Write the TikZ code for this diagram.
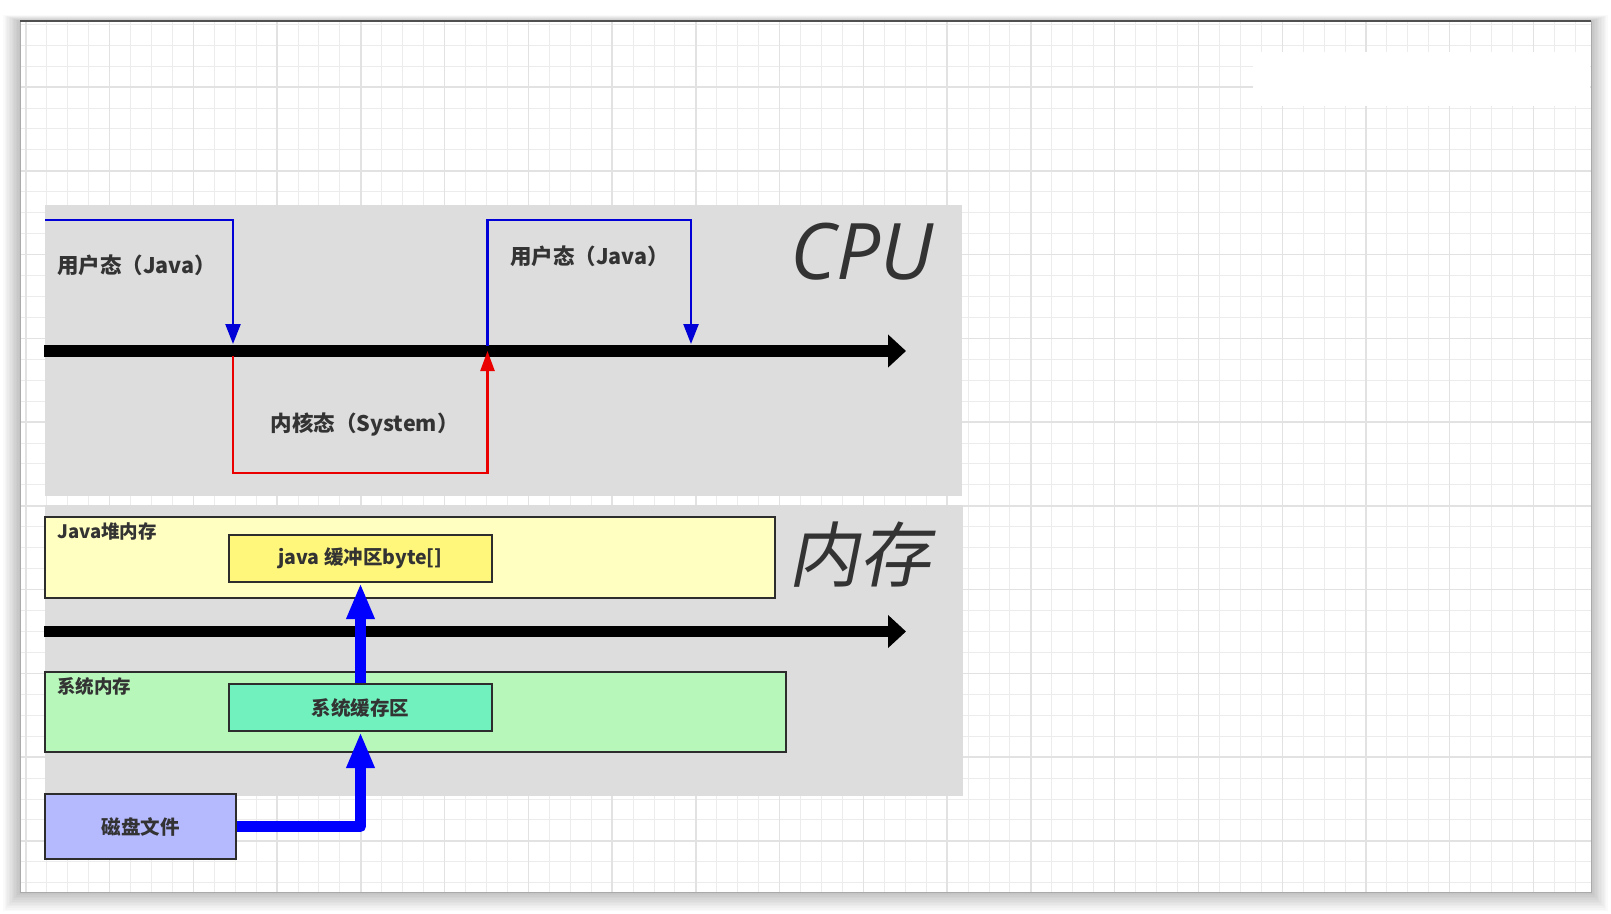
\documentclass[tikz,border=0pt]{standalone}
\usepackage{fontspec}
\setmainfont{Noto Sans CJK SC}
\newfontfamily\cpufont{Open Sans}
\newfontfamily\memfont{Noto Sans CJK SC}[FakeSlant=0.2]
\usetikzlibrary{arrows.meta}
\definecolor{panelgray}{RGB}{221,221,221}
\definecolor{gminorc}{RGB}{236,236,236}
\definecolor{gmajorc}{RGB}{226,226,226}
\definecolor{boxline}{RGB}{45,45,45}
\definecolor{txt}{RGB}{51,51,51}
\definecolor{heapfill}{RGB}{255,255,194}
\definecolor{buffill}{RGB}{255,247,124}
\definecolor{sysfill}{RGB}{183,247,185}
\definecolor{cachefill}{RGB}{112,241,190}
\definecolor{diskfill}{RGB}{181,185,254}
\definecolor{tblue}{RGB}{0,0,215}
\definecolor{tred}{RGB}{235,0,0}
\definecolor{bblue}{RGB}{0,0,255}
\definecolor{topline}{RGB}{80,80,80}
\definecolor{frameline}{RGB}{170,170,170}
\begin{document}
\begin{tikzpicture}[x=1pt,y=-1pt,
  panelbox/.style={fill=panelgray, draw=none, inner sep=0pt, anchor=north west},
  membox/.style={draw=boxline, line width=2pt, inner sep=0pt, anchor=north west},
  lbl/.style={text=txt, font=\bfseries\fontsize{19.5}{23}\selectfont},
  cornerlbl/.style={text=txt, font=\bfseries\fontsize{18.5}{22}\selectfont, inner sep=0pt, anchor=west},
  cpulbl/.style={text=txt, font=\bfseries\fontsize{21.5}{26}\selectfont, inner sep=0pt, anchor=west},
  axisarrow/.style={line width=11.5pt, draw=black, -{Triangle[length=18pt,width=32pt]}},
  thinblue/.style={draw=tblue, line width=2.4pt, -{Triangle[length=20pt,width=15pt]}},
  thinred/.style={draw=tred, line width=2.4pt, -{Triangle[length=20pt,width=14pt]}},
  bigarrow/.style={draw=bblue, line width=11pt, line join=round, -{Triangle[length=36pt,width=26pt]}},
  gminor/.style={draw=gminorc, line width=1pt},
  gmajor/.style={draw=gmajorc, line width=1.4pt}
]
\useasboundingbox (0,0) rectangle (1611,913);
\fill[white] (0,0) rectangle (1611,913);
% shadow
\foreach \i in {1,...,12}
  \fill[black,opacity=0.018] ({20-1.4*\i},{21-0.5*\i}) rectangle ({1591+1.4*\i},{892+1.6*\i});
% frame
\node[fill=white, draw=none, inner sep=0pt, minimum width=1571pt, minimum height=871pt, anchor=north west] (frame) at (20,21) {};
\begin{scope}
\clip (20,21) rectangle (1591,892);
\foreach \k in {0,...,75} \draw[gminor] ({25.8+20.94*\k},21) -- ({25.8+20.94*\k},892);
\foreach \k in {1,...,42} \draw[gminor] (20,{3.3+20.94*\k}) -- (1591,{3.3+20.94*\k});
\foreach \k in {0,4,...,72} \draw[gmajor] ({25.8+20.94*\k},21) -- ({25.8+20.94*\k},892);
\foreach \k in {4,8,...,40} \draw[gmajor] (20,{3.3+20.94*\k}) -- (1591,{3.3+20.94*\k});
\end{scope}
\draw[frameline, line width=0.8pt] (frame.north west) rectangle (frame.south east);
\draw[topline, line width=2.2pt] (frame.north west) -- (frame.north east);
% white patch top right
\fill[white] (1253,52) rectangle (1590,106);

% panels
\node[panelbox, minimum width=917pt, minimum height=291pt] (cpupanel) at (45,205) {};
\node[panelbox, minimum width=918pt, minimum height=291pt] (mempanel) at (44.5,505) {};

% CPU axis
\coordinate (ca0) at (44,351);
\coordinate (ca1) at (906,351);
\draw[axisarrow] (ca0) -- (ca1);

% CPU state lines
\coordinate (b1s) at (45,220);
\coordinate (b1c) at (233,220);
\coordinate (b1e) at (233,344);
\draw[thinblue] (b1s) -- (b1c) -- (b1e);

\coordinate (r1s) at (233,356);
\coordinate (r1a) at (233,473);
\coordinate (r1b) at (487.5,473);
\coordinate (r1e) at (487.5,351);
\draw[thinred] (r1s) -- (r1a) -- (r1b) -- (r1e);

\coordinate (b2s) at (487.5,346);
\coordinate (b2a) at (487.5,220);
\coordinate (b2b) at (691,220);
\coordinate (b2e) at (691,344);
\draw[thinblue] (b2s) -- (b2a) -- (b2b) -- (b2e);

\node[cpulbl] (u1) at (57,265) {用户态（Java）};
\node[cpulbl] (u2) at (510,256.5) {用户态（Java）};
\node[cpulbl] (k1) at (270.5,425) {内核态（System）};
\node[text=txt, font=\cpufont\itshape\fontsize{78}{80}\selectfont, inner sep=0pt, anchor=base west] (cpu) at (790,279) {CPU};

% memory
\node[membox, fill=heapfill, minimum width=730pt, minimum height=81pt] (heap) at (44,516) {};
\node[membox, fill=buffill, minimum width=262.4pt, minimum height=47pt, lbl] (jbuf) at (228.3,534) {java 缓冲区byte[]};
\node[cornerlbl] (heaplbl) at (57,531.5) {Java堆内存};

\coordinate (ma0) at (44,631.5);
\coordinate (ma1) at (906,631.5);
\draw[axisarrow] (ma0) -- (ma1);

\node[membox, fill=sysfill, minimum width=741pt, minimum height=80pt] (sysmem) at (44,671) {};
\node[membox, fill=cachefill, minimum width=262.4pt, minimum height=46.7pt, lbl] (cache) at (228.3,683.3) {系统缓存区};
\node[cornerlbl] (syslbl) at (57,686.5) {系统内存};

\node[membox, fill=diskfill, minimum width=190.7pt, minimum height=65.6pt, lbl] (disk) at (44.3,792.7) {磁盘文件};

\node[text=txt, font=\memfont\fontsize{71}{73}\selectfont, inner sep=0pt] (mem) at (859,555) {内存};

\draw[bigarrow] (cache.north) -- (jbuf.south);
\draw[bigarrow] (disk.east) -| (cache.south);
\end{tikzpicture}
\end{document}
